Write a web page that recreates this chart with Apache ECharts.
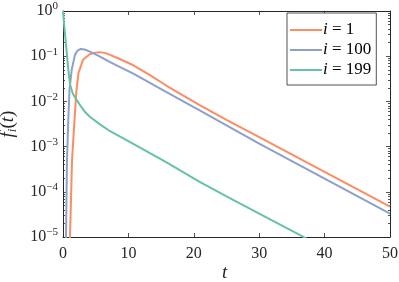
<!DOCTYPE html>
<html><head><meta charset="utf-8">
<script src="https://cdn.jsdelivr.net/npm/echarts@6/dist/echarts.min.js"></script>
<style>html,body{margin:0;padding:0;background:#fff}#c{width:399px;height:282px}</style>
</head><body><div id="c"></div>
<script>
const seriesNames = ['i = 1', 'i = 100', 'i = 199'];
const t1   = [1.00, 1.07, 1.22, 1.38, 1.76, 2.06, 2.37, 3.06, 4.13, 5.0, 5.66, 6.5, 7.19, 8.5, 10.75, 13.3, 15.9, 20.9, 25, 30, 40, 50];
const f1   = [4e-6, 1e-5, 6.6e-5, 5.0e-4, 3.9e-3, 1.78e-2, 4.27e-2, 8.3e-2, 0.112, 0.120, 0.123, 0.117, 0.107, 0.089, 0.063, 0.038, 0.0219, 0.0083, 0.0039, 0.00162, 2.75e-4, 4.7e-5];
const t100 = [0.40, 0.46, 0.53, 0.61, 0.81, 0.99, 1.33, 1.83, 2.2, 2.7, 3.3, 4.13, 5.66, 7.2, 10.75, 15.9, 20.9, 30, 40, 50];
const f100 = [2.5e-6, 1e-5, 6.3e-5, 5.0e-4, 3.9e-3, 1.78e-2, 5.0e-2, 0.107, 0.132, 0.145, 0.141, 0.126, 0.098, 0.074, 0.041, 0.0158, 0.0063, 0.00117, 1.95e-4, 3.3e-5];
const t199 = [0, 0.15, 0.3, 0.56, 0.82, 1.07, 1.48, 2.0, 2.6, 3.3, 4.1, 5.66, 7.2, 10.75, 15.9, 20.9, 25, 30, 36.4, 38];
const f199 = [1, 0.54, 0.32, 0.126, 0.050, 0.024, 0.0151, 0.0112, 0.0083, 0.0060, 0.00457, 0.0031, 0.00219, 0.00115, 4.4e-4, 1.66e-4, 7.9e-5, 3.3e-5, 1.07e-5, 7.9e-6];
const xTicks = [0, 10, 20, 30, 40, 50];
const yTickExponents = [-5, -4, -3, -2, -1, 0];
const xName = 't';

const seriesT = [t1, t100, t199];
const seriesF = [f1, f100, f199];
const colors = ['#fc8d62', '#8da0cb', '#66c2a5'];
const yMajor = yTickExponents.map(e => Math.pow(10, e));
const yMinor = [];
yTickExponents.slice(0, -1).forEach(e => { for (let k = 2; k <= 9; k++) yMinor.push(k * Math.pow(10, e)); });

const SERIF = '"Liberation Serif", "DejaVu Serif", serif';
const AX = '#262626';
const yMin = yMajor[0], yMax = yMajor[yMajor.length - 1];

function yAxisBase(pos, tickVals, len, showLabel, showLine) {
  return {
    type: 'log', logBase: 10, min: yMin, max: yMax, position: pos,
    axisLine: { show: showLine, lineStyle: { color: AX, width: 1 } },
    axisTick: { show: true, inside: true, length: len, customValues: tickVals, lineStyle: { color: AX, width: 0.8 } },
    splitLine: { show: false },
    axisLabel: showLabel ? {
      show: true, customValues: yMajor, margin: 5,
      formatter: v => '{b|10}{e|' + String(Math.round(Math.log10(v))).replace('-', '\u2212') + '}',
      rich: {
        b: { fontFamily: SERIF, fontSize: 16, color: AX, lineHeight: 20, verticalAlign: 'middle' },
        e: { fontFamily: SERIF, fontSize: 11, color: AX, lineHeight: 10, verticalAlign: 'top' }
      }
    } : { show: false }
  };
}

const chart = echarts.init(document.getElementById('c'), null, { renderer: 'canvas' });
chart.setOption({
  animation: false,
  backgroundColor: '#fff',
  title: {
    text: xName, left: 222, top: 263, padding: 0,
    textStyle: { fontFamily: SERIF, fontStyle: 'italic', fontWeight: 'normal', fontSize: 19, color: AX }
  },
  grid: { left: 63, right: 9, top: 11, bottom: 45, outerBoundsMode: 'none', containLabel: false },
  xAxis: [
    {
      type: 'value', min: xTicks[0], max: xTicks[xTicks.length - 1], interval: 10, position: 'bottom',
      axisLine: { show: true, lineStyle: { color: AX, width: 1 } },
      axisTick: { show: true, inside: true, length: 4, lineStyle: { color: AX, width: 0.8 } },
      splitLine: { show: false },
      axisLabel: { show: true, margin: 9, fontFamily: SERIF, fontSize: 16, color: AX, customValues: xTicks }
    },
    {
      type: 'value', min: xTicks[0], max: xTicks[xTicks.length - 1], interval: 10, position: 'top',
      axisLine: { show: true, lineStyle: { color: AX, width: 1 } },
      axisTick: { show: true, inside: true, length: 4, lineStyle: { color: AX, width: 0.8 } },
      splitLine: { show: false }, axisLabel: { show: false }
    }
  ],
  yAxis: [
    Object.assign(yAxisBase('left', yMajor, 4, true, true), {
      name: '{f|f}{s|i}{p|(}{f|t}{p|)}', nameLocation: 'middle', nameGap: 42, nameRotate: 90,
      nameTextStyle: {
        rich: {
          f: { fontFamily: SERIF, fontStyle: 'italic', fontSize: 19, color: AX, lineHeight: 22 },
          s: { fontFamily: SERIF, fontStyle: 'italic', fontSize: 13, color: AX, lineHeight: 22, verticalAlign: 'bottom', padding: [6, 0, 0, 0] },
          p: { fontFamily: SERIF, fontSize: 19, color: AX, lineHeight: 22 }
        }
      }
    }),
    yAxisBase('left', yMinor, 2, false, false),
    yAxisBase('right', yMajor, 4, false, true),
    yAxisBase('right', yMinor, 2, false, false)
  ],
  legend: {
    show: true, orient: 'vertical', left: 287, top: 13,
    backgroundColor: '#fff', borderColor: AX, borderWidth: 0.8, borderRadius: 0,
    padding: [7, 5, 5, 3], itemGap: 0, itemWidth: 32, itemHeight: 2,
    data: seriesNames.map(n => ({ name: n, icon: 'rect' })),
    formatter: name => '{it|i}{n| = ' + name.split('=')[1].trim() + '}',
    textStyle: {
      padding: [0, 0, 0, -4], lineHeight: 20, fontSize: 17, fontFamily: SERIF,
      rich: {
        it: { fontFamily: SERIF, fontStyle: 'italic', fontSize: 17, color: '#000', lineHeight: 20 },
        n: { fontFamily: SERIF, fontSize: 17, color: '#000', lineHeight: 20 }
      }
    }
  },
  series: seriesNames.map((n, i) => ({
    name: n, type: 'line', xAxisIndex: 0, yAxisIndex: 0,
    data: seriesT[i].map((t, j) => [t, seriesF[i][j]]),
    showSymbol: false, symbol: 'none', smooth: false, clip: true,
    lineStyle: { color: colors[i], width: 2 }, itemStyle: { color: colors[i] }
  }))
});
</script></body></html>
